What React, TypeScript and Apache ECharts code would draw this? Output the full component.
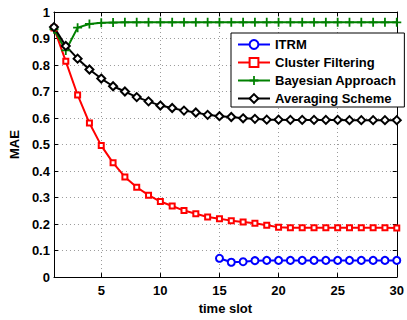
import React, { useEffect, useRef } from "react";
import * as echarts from "echarts";

const timeSlots = Array.from({ length: 30 }, (_, i) => i + 1);
const xTicks = [5, 10, 15, 20, 25, 30];

const itrm = [
  null, null, null, null, null, null, null, null, null, null, null, null, null, null,
  0.071, 0.056, 0.058, 0.062, 0.063, 0.063, 0.063, 0.063, 0.063, 0.063, 0.063, 0.063, 0.063, 0.063, 0.063, 0.063,
];
const clusterFiltering = [
  0.94, 0.814, 0.687, 0.581, 0.496, 0.431, 0.378, 0.339, 0.309, 0.285,
  0.268, 0.251, 0.239, 0.227, 0.22, 0.213, 0.208, 0.203, 0.196, 0.188,
  0.186, 0.186, 0.186, 0.186, 0.186, 0.186, 0.186, 0.186, 0.186, 0.185,
];
const bayesian = [
  0.935, 0.855, 0.941, 0.955, 0.959, 0.96, 0.961, 0.961, 0.961, 0.961,
  0.961, 0.961, 0.961, 0.961, 0.961, 0.961, 0.961, 0.961, 0.961, 0.961,
  0.961, 0.961, 0.961, 0.961, 0.961, 0.961, 0.961, 0.961, 0.961, 0.961,
];
const averaging = [
  0.943, 0.872, 0.824, 0.783, 0.749, 0.72, 0.7, 0.679, 0.663, 0.647,
  0.638, 0.628, 0.621, 0.612, 0.607, 0.604, 0.599, 0.597, 0.594, 0.594,
  0.593, 0.593, 0.593, 0.593, 0.593, 0.592, 0.592, 0.592, 0.592, 0.592,
];

const seriesNames = ["ITRM", "Cluster Filtering", "Bayesian Approach", "Averaging Scheme"];

const FONT = "'Liberation Sans', Arial, Helvetica, sans-serif";
const PLUS = "path://M4,0h2v4h4v2h-4v4h-2v-4h-4v-2h4z";

export default function App() {
  const ref = useRef<HTMLDivElement>(null);
  useEffect(() => {
    if (!ref.current) return;
    const chart = echarts.init(ref.current, null, { renderer: "svg" });
    const pair = (arr: (number | null)[]) => timeSlots.map((t, i) => [t, arr[i]]);
    const split = { show: true, lineStyle: { color: "#9a9a9a", type: [1, 3] as any, width: 1 } };
    chart.setOption({
      animation: false,
      backgroundColor: "#fff",
      textStyle: { fontFamily: FONT },
      grid: { left: 47, right: 8, top: 12, bottom: 32, containLabel: false },
      legend: {
        orient: "vertical",
        left: 231,
        top: 33,
        padding: [5, 8, 2, 6],
        itemWidth: 32,
        itemHeight: 11,
        itemGap: 5,
        backgroundColor: "#fff",
        borderColor: "#000",
        borderWidth: 1,
        borderRadius: 0,
        data: seriesNames,
        textStyle: { fontFamily: FONT, fontWeight: "bold", fontSize: 13, color: "#000" },
      },
      xAxis: [
        {
          type: "value",
          min: 1,
          max: 30,
          name: "time slot",
          nameLocation: "middle",
          nameGap: 19,
          nameTextStyle: { fontFamily: FONT, fontWeight: "bold", fontSize: 13, color: "#000" },
          axisLine: { show: true, onZero: false, lineStyle: { color: "#000", width: 1 } },
          axisTick: { show: true, inside: true, length: 4, customValues: xTicks, lineStyle: { color: "#000" } },
          axisLabel: { customValues: xTicks, margin: 7, fontFamily: FONT, fontWeight: "bold", fontSize: 13, color: "#000" },
          splitLine: split,
        },
        {
          type: "value",
          position: "top",
          min: 1,
          max: 30,
          axisLine: { show: true, onZero: false, lineStyle: { color: "#000", width: 1 } },
          axisTick: { show: true, inside: true, length: 4, customValues: xTicks, lineStyle: { color: "#000" } },
          axisLabel: { show: false },
          splitLine: { show: false },
        },
      ],
      yAxis: [
        {
          type: "value",
          min: 0,
          max: 1,
          interval: 0.1,
          name: "MAE",
          nameLocation: "middle",
          nameGap: 26,
          nameTextStyle: { fontFamily: FONT, fontWeight: "bold", fontSize: 13, color: "#000" },
          axisLine: { show: true, onZero: false, lineStyle: { color: "#000", width: 1 } },
          axisTick: { show: true, inside: true, length: 4, lineStyle: { color: "#000" } },
          axisLabel: { margin: 4, fontFamily: FONT, fontWeight: "bold", fontSize: 13, color: "#000" },
          splitLine: split,
        },
        {
          type: "value",
          position: "right",
          min: 0,
          max: 1,
          interval: 0.1,
          axisLine: { show: true, onZero: false, lineStyle: { color: "#000", width: 1 } },
          axisTick: { show: true, inside: true, length: 4, lineStyle: { color: "#000" } },
          axisLabel: { show: false },
          splitLine: { show: false },
        },
      ],
      series: [
        {
          name: seriesNames[0],
          type: "line",
          data: pair(itrm),
          symbol: "emptyCircle",
          symbolSize: 7,
          color: "#0000ff",
          lineStyle: { width: 2, color: "#0000ff" },
          itemStyle: { color: "#0000ff", borderColor: "#0000ff", borderWidth: 1.8 },
        },
        {
          name: seriesNames[1],
          type: "line",
          data: pair(clusterFiltering),
          symbol: "emptyRect",
          symbolSize: 5,
          color: "#ff0000",
          lineStyle: { width: 2, color: "#ff0000" },
          itemStyle: { color: "#ff0000", borderColor: "#ff0000", borderWidth: 1.5 },
        },
        {
          name: seriesNames[2],
          type: "line",
          data: pair(bayesian),
          symbol: PLUS,
          symbolSize: 9,
          color: "#008000",
          lineStyle: { width: 2, color: "#008000" },
          itemStyle: { color: "#008000" },
        },
        {
          name: seriesNames[3],
          type: "line",
          data: pair(averaging),
          symbol: "emptyDiamond",
          symbolSize: 8,
          color: "#000000",
          lineStyle: { width: 2, color: "#000" },
          itemStyle: { color: "#000", borderColor: "#000", borderWidth: 1.8 },
        },
      ],
    });
    return () => chart.dispose();
  }, []);
  return <div ref={ref} style={{ width: 407, height: 320, position: "absolute", left: 0, top: 0 }} />;
}
